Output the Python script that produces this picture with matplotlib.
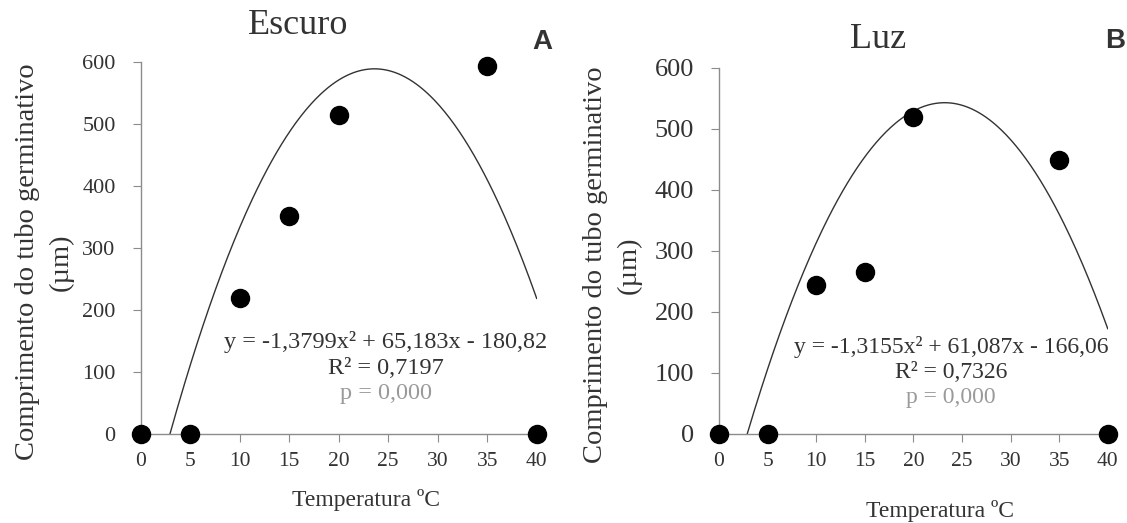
import numpy as np
import matplotlib
matplotlib.use('Agg')
import matplotlib.pyplot as plt

# Data
temps = [0, 5, 10, 15, 20, 35, 40]
escuro = [0, 0, 220, 351, 514, 594, 0]
luz = [0, 0, 244, 265, 520, 449, 0]

# Quadratic fits as printed on the chart (a, b, c)
coef_escuro = [-1.3799, 65.183, -180.82]
coef_luz = [-1.3155, 61.087, -166.06]
eq_escuro = ['y = -1,3799x² + 65,183x - 180,82', 'R² = 0,7197', 'p = 0,000']
eq_luz = ['y = -1,3155x² + 61,087x - 166,06', 'R² = 0,7326', 'p = 0,000']

xticks = [0, 5, 10, 15, 20, 25, 30, 35, 40]
yticks = [0, 100, 200, 300, 400, 500, 600]

plt.rcParams['font.family'] = ['Liberation Serif', 'DejaVu Serif']
text_col = '#333333'
axis_col = '#8c8c8c'
W, H = 1127, 523

fig = plt.figure(figsize=(11.27, 5.23), dpi=100)

panels = [
    dict(rect=[0.1248, 0.1702, 0.3514, 0.7113], y=escuro, coef=coef_escuro, eq=eq_escuro,
         title='Escuro', title_xy=(298, 26), letter='A', letter_xy=(542, 42),
         ytick_size=16, eq_xy=(386, [342, 368, 394], 17.5),
         ylab_x=-0.168, xlab_xy=(366, 500)),
    dict(rect=[0.638, 0.1702, 0.3449, 0.6998], y=luz, coef=coef_luz, eq=eq_luz,
         title='Luz', title_xy=(878, 40), letter='B', letter_xy=(1115, 41),
         ytick_size=19, eq_xy=(951, [347, 373, 398], 17),
         ylab_x=-0.198, xlab_xy=(940, 511)),
]

for p in panels:
    ax = fig.add_axes(p['rect'])
    a, b, c = p['coef']
    root = (-b + np.sqrt(b * b - 4 * a * c)) / (2 * a)
    xs = np.linspace(root, 40, 300)
    ax.plot(xs, a * xs ** 2 + b * xs + c, color='#333333', lw=1.0, zorder=2)
    ax.plot(temps, p['y'], 'o', color='black', markersize=13, clip_on=False, zorder=3)

    ax.set_xlim(0, 40)
    ax.set_ylim(0, 600)
    ax.set_xticks(xticks)
    ax.set_yticks(yticks)
    for s in ['top', 'right']:
        ax.spines[s].set_visible(False)
    for s in ['left', 'bottom']:
        ax.spines[s].set_color(axis_col)
        ax.spines[s].set_linewidth(1.0)
    ax.tick_params(axis='x', direction='out', length=6, color=axis_col,
                   labelsize=15.5, labelcolor=text_col, pad=7)
    ax.tick_params(axis='y', direction='out', length=6, color=axis_col,
                   labelsize=p['ytick_size'], labelcolor=text_col, pad=12)
    ax.set_ylabel('Comprimento do tubo germinativo\n(µm)', fontsize=20.5,
                  color=text_col, linespacing=1.45)
    ax.yaxis.set_label_coords(p['ylab_x'], 0.462)
    ax.patch.set_alpha(0)

    fig.text(p['title_xy'][0] / W, 1 - p['title_xy'][1] / H, p['title'],
             fontsize=26, color=text_col, ha='center', va='center')
    fig.text(p['xlab_xy'][0] / W, 1 - p['xlab_xy'][1] / H, 'Temperatura ºC',
             fontsize=17, color=text_col, ha='center', va='center')
    ex, eys, efs = p['eq_xy']
    colors = [text_col, text_col, '#9a9a9a']
    for line, yy, col in zip(p['eq'], eys, colors):
        fig.text(ex / W, 1 - yy / H, line, fontsize=efs, color=col,
                 ha='center', va='center')
    fig.text(p['letter_xy'][0] / W, 1 - p['letter_xy'][1] / H, p['letter'],
             fontsize=20, fontweight='bold', family='Liberation Sans',
             color=text_col, ha='center', va='center')

fig.savefig('out.png', dpi=100)
